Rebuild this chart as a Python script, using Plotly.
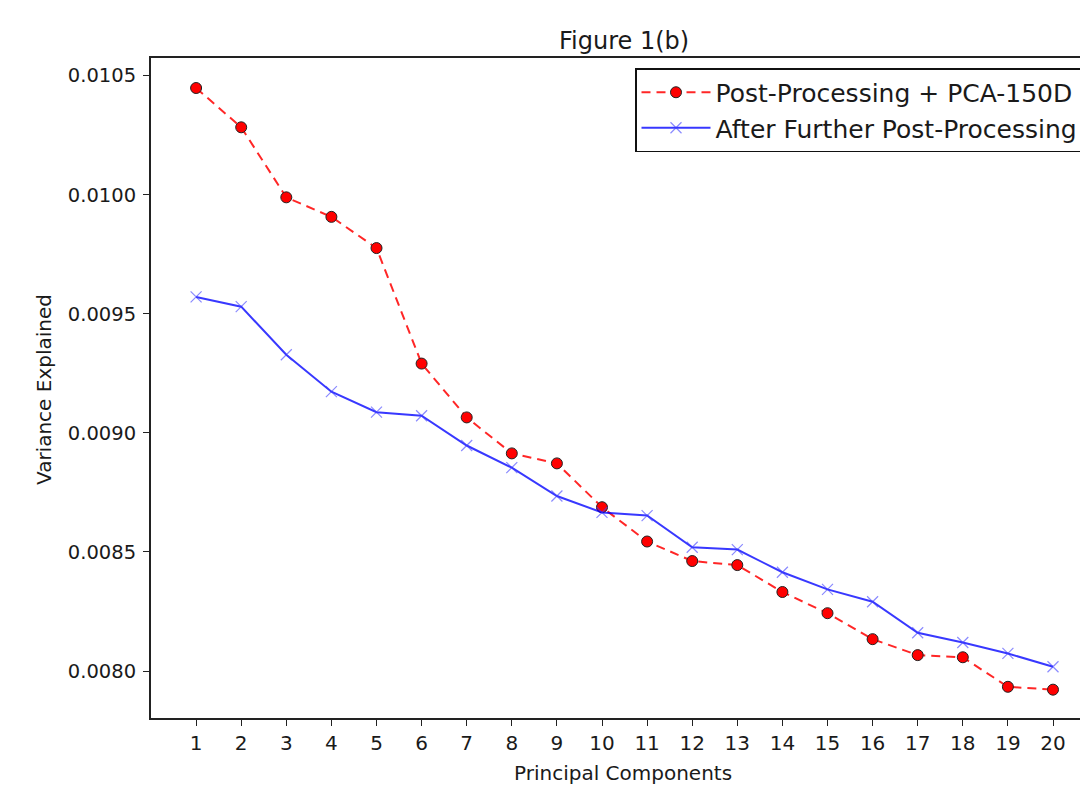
import plotly.graph_objects as go

components = list(range(1, 21))
tick_vals_x = list(range(1, 21))
tick_vals_y = [0.0080, 0.0085, 0.0090, 0.0095, 0.0100, 0.0105]

post_pca = [0.010448, 0.010283, 0.009989, 0.009907, 0.009776, 0.009291,
            0.009065, 0.008914, 0.008872, 0.008688, 0.008544, 0.008462,
            0.008445, 0.008332, 0.008243, 0.008134, 0.008067, 0.008058,
            0.007934, 0.007922]
further = [0.009571, 0.009530, 0.009328, 0.009173, 0.009087, 0.009072,
           0.008947, 0.008854, 0.008735, 0.008666, 0.008653, 0.008520,
           0.008510, 0.008415, 0.008343, 0.008291, 0.008161, 0.008120,
           0.008074, 0.008018]

FONT = "DejaVu Sans"
L, T, W, H = 151, 58, 1080, 791
B = 718

fig = go.Figure()
fig.add_trace(go.Scatter(
    x=components, y=post_pca, mode="lines+markers",
    name="Post-Processing + PCA-150D",
    line=dict(color="rgba(255,0,0,0.85)", width=2, dash="9px,6px"),
    marker=dict(symbol="circle", size=11, color="#ff0000",
                line=dict(color="#222222", width=1)),
))
fig.add_trace(go.Scatter(
    x=components, y=further, mode="lines+markers",
    name="After Further Post-Processing",
    line=dict(color="rgba(0,0,255,0.78)", width=2),
    marker=dict(symbol="x-thin", size=11, color="rgba(0,0,255,0.5)",
                line=dict(color="rgba(60,60,255,0.6)", width=1.2)),
))

ph = B - T
pw = W - L

def px_x(px):
    return (px - L) / pw

def px_y(py):
    return (B - py) / ph

fig.update_layout(
    width=W, height=H,
    margin=dict(l=L, r=0, t=T, b=H - B, pad=0, autoexpand=False),
    paper_bgcolor="white", plot_bgcolor="white",
    font=dict(family=FONT, size=20, color="#1a1a1a"),
    showlegend=True,
    legend=dict(
        x=px_x(635), y=px_y(68), xanchor="left", yanchor="top",
        bordercolor="#111111", borderwidth=1.5, bgcolor="white",
        font=dict(family=FONT, size=25, color="#1a1a1a"),
        itemwidth=69, tracegroupgap=0,
    ),
    xaxis=dict(
        range=[0, (W - L) / 45.1], tickvals=tick_vals_x,
        ticktext=[str(v) for v in tick_vals_x],
        showgrid=False, zeroline=False,
        showline=True, linecolor="#222222", linewidth=2, mirror=True,
        ticks="outside", ticklen=6, tickwidth=1, tickcolor="#222222",
        tickfont=dict(family=FONT, size=20, color="#1a1a1a"),
    ),
    yaxis=dict(
        range=[0.007803, 0.010574], tickvals=tick_vals_y,
        tickformat=".4f",
        showgrid=False, zeroline=False,
        showline=True, linecolor="#222222", linewidth=2,
        ticks="outside", ticklen=6, tickwidth=1, tickcolor="#222222",
        ticklabelstandoff=3,
        tickfont=dict(family=FONT, size=19.5, color="#1a1a1a"),
    ),
    annotations=[
        dict(text="Figure 1(b)", x=px_x(624), y=px_y(41), xref="paper", yref="paper",
             xanchor="center", yanchor="middle", showarrow=False,
             font=dict(family=FONT, size=24, color="#1a1a1a")),
        dict(text="Principal Components", x=px_x(623), y=px_y(773), xref="paper", yref="paper",
             xanchor="center", yanchor="middle", showarrow=False,
             font=dict(family=FONT, size=20, color="#1a1a1a")),
        dict(text="Variance Explained", x=px_x(44), y=px_y(390), xref="paper", yref="paper",
             xanchor="center", yanchor="middle", showarrow=False, textangle=-90,
             font=dict(family=FONT, size=20, color="#1a1a1a")),
    ],
)

fig.write_html("out.html")
